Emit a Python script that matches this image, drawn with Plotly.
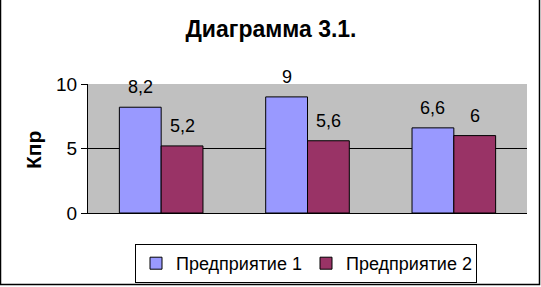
import plotly.graph_objects as go

categories = ["1", "2", "3"]
series_names = ["Предприятие 1", "Предприятие 2"]
values_1 = [8.2, 9.0, 6.6]
values_2 = [5.2, 5.6, 6.0]
label_1 = ["8,2", "9", "6,6"]
label_2 = ["5,2", "5,6", "6"]
y_ticks = [0, 5, 10]

W, H = 541, 287
ML, MR, MT, MB = 88, 14, 84, 74
PW, PH = W - ML - MR, H - MT - MB
FONT = "Arial, Liberation Sans, sans-serif"
colors = ["#9999FF", "#993366"]

fig = go.Figure()
for name, vals, col in zip(series_names, [values_1, values_2], colors):
    fig.add_trace(go.Bar(
        x=categories, y=vals, name=name,
        marker=dict(color=col, line=dict(color="black", width=1)),
        hoverinfo="skip",
    ))

bargap = 1.5 / 3.5
bw = (1 - bargap) / 2
annotations = []
for i in range(len(categories)):
    for k, (vals, labs) in enumerate([(values_1, label_1), (values_2, label_2)]):
        off = (k - 0.5) * bw
        annotations.append(dict(
            x=i + off, y=vals[i], xref="x", yref="y", text=labs[i],
            showarrow=False, yanchor="bottom", yshift=8,
            font=dict(family=FONT, size=18, color="black"),
        ))

annotations.append(dict(
    x=(33 - ML) / PW, y=(MT + PH - 150) / PH, xref="paper", yref="paper",
    text="<b>Кпр</b>", textangle=-90, showarrow=False,
    xanchor="center", yanchor="middle",
    font=dict(family=FONT, size=21, color="black"),
))

fig.update_layout(
    width=W, height=H,
    margin=dict(l=ML, r=MR, t=MT, b=MB, pad=0, autoexpand=False),
    paper_bgcolor="white", plot_bgcolor="#C0C0C0",
    barmode="group", bargap=bargap, bargroupgap=0,
    title=dict(text="<b>Диаграмма 3.1.</b>", x=271 / W, xanchor="center",
               y=1 - 29 / H, yanchor="middle",
               font=dict(family=FONT, size=23, color="black")),
    font=dict(family=FONT, size=18, color="black"),
    showlegend=True,
    legend=dict(orientation="h", xref="container", yref="container",
                x=306 / W, xanchor="center",
                y=1 - 263.5 / H, yanchor="middle",
                bgcolor="white", bordercolor="black", borderwidth=1,
                entrywidth=125,
                font=dict(family=FONT, size=18, color="black"),
                itemclick=False, itemdoubleclick=False),
    xaxis=dict(showticklabels=False, ticks="", showline=True, linecolor="black",
               linewidth=1, showgrid=False, zeroline=False),
    yaxis=dict(range=[0, 10], tickvals=y_ticks, ticktext=[str(t) for t in y_ticks],
               ticks="outside", ticklen=6, tickcolor="black",
               showline=True, linecolor="black", linewidth=1,
               showgrid=True, gridcolor="black", gridwidth=1, zeroline=False,
               tickfont=dict(family=FONT, size=19, color="black")),
    annotations=annotations,
    shapes=[dict(type="rect", xref="paper", yref="paper",
                 x0=(0.5 - ML) / PW, x1=(539.5 - ML) / PW,
                 y0=(MT + PH - 284.5) / PH, y1=(MT + PH + 5) / PH,
                 line=dict(color="black", width=1.5), fillcolor="rgba(0,0,0,0)",
                 layer="above")],
)

fig.write_html("out.html")
